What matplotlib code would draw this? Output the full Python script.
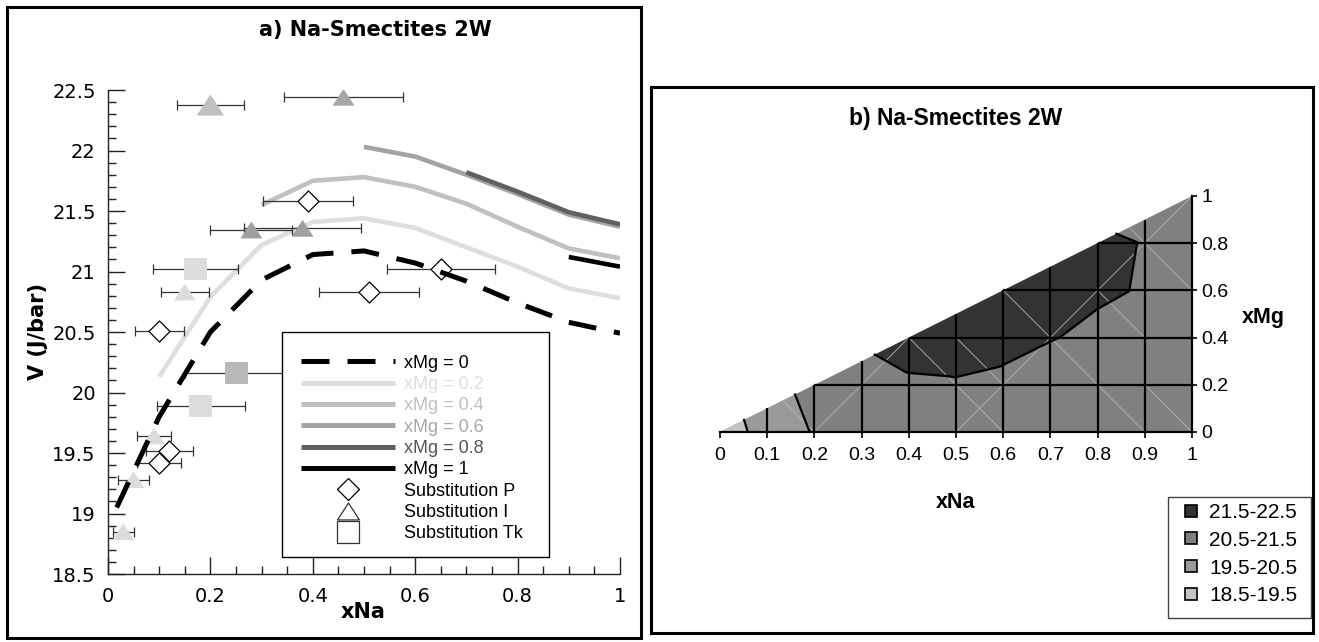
import matplotlib
matplotlib.use("Agg")
import numpy as np
import matplotlib.pyplot as plt
from matplotlib.lines import Line2D
from matplotlib.patches import Rectangle
from matplotlib.path import Path

# ---------------- data : panel a ----------------
xna_mg0 = [0.017, 0.1, 0.2, 0.3, 0.4, 0.5, 0.6, 0.7, 0.8, 0.9, 1.0]
v_mg0 = [19.05, 19.8, 20.5, 20.93, 21.14, 21.17, 21.07, 20.92, 20.74, 20.58, 20.49]
xna_mg02 = [0.1, 0.2, 0.3, 0.4, 0.5, 0.6, 0.7, 0.8, 0.9, 1.0]
v_mg02 = [20.13, 20.79, 21.22, 21.41, 21.44, 21.36, 21.20, 21.04, 20.86, 20.78]
xna_mg04 = [0.3, 0.4, 0.5, 0.6, 0.7, 0.8, 0.9, 1.0]
v_mg04 = [21.55, 21.75, 21.78, 21.70, 21.56, 21.37, 21.19, 21.11]
xna_mg06 = [0.5, 0.6, 0.7, 0.8, 0.9, 1.0]
v_mg06 = [22.03, 21.95, 21.80, 21.64, 21.47, 21.37]
xna_mg08 = [0.7, 0.8, 0.9, 1.0]
v_mg08 = [21.82, 21.66, 21.49, 21.39]
xna_mg1 = [0.9, 1.0]
v_mg1 = [21.12, 21.04]
curve_labels = ["xMg = 0", "xMg = 0.2", "xMg = 0.4", "xMg = 0.6", "xMg = 0.8", "xMg = 1"]

p_xna = [0.39, 0.65, 0.51, 0.10, 0.12, 0.10]
p_v = [21.585, 21.02, 20.83, 20.51, 19.52, 19.42]
p_err = [0.088, 0.106, 0.098, 0.048, 0.046, 0.043]

i_xna = [0.20, 0.46, 0.28, 0.38, 0.15, 0.09, 0.05, 0.03]
i_v = [22.376, 22.44, 21.343, 21.357, 20.83, 19.64, 19.28, 18.85]
i_err = [0.065, 0.117, 0.08, 0.114, 0.047, 0.034, 0.03, 0.02]

tk_xna = [0.171, 0.251, 0.181]
tk_v = [21.02, 20.16, 19.89]
tk_err = [0.083, 0.10, 0.086]

marker_labels = ["Substitution P", "Substitution I", "Substitution Tk"]

a_xticks = [0, 0.2, 0.4, 0.6, 0.8, 1]
a_yticks = [18.5, 19, 19.5, 20, 20.5, 21, 21.5, 22, 22.5]

# ---------------- data : panel b ----------------
tern_xna = [0.0, 1.0, 1.0]
tern_xmg = [0.0, 0.0, 1.0]
band_labels = ["21.5-22.5", "20.5-21.5", "19.5-20.5", "18.5-19.5"]
low_xna = [0.0, 0.059, 0.051]
low_xmg = [0.0, 0.0, 0.051]
mid_xna = [0.059, 0.19, 0.159, 0.051]
mid_xmg = [0.0, 0.0, 0.159, 0.051]
dark_xna = [0.328, 0.367, 0.396, 0.48, 0.499, 0.593, 0.6, 0.7, 0.72, 0.799, 0.867, 0.884, 0.84]
dark_xmg = [0.328, 0.284, 0.251, 0.237, 0.232, 0.277, 0.284, 0.383, 0.401, 0.52, 0.597, 0.804, 0.84]
b_xticks = [0, 0.1, 0.2, 0.3, 0.4, 0.5, 0.6, 0.7, 0.8, 0.9, 1]
b_yticks = [0, 0.2, 0.4, 0.6, 0.8, 1]
# faint triangulation edges (xNa0, xMg0, xNa1, xMg1)
tri_edges = [(0.2, 0.0, 0.4, 0.4), (0.5, 0.0, 1.0, 1.0), (0.133, 0.133, 0.2, 0.0),
             (0.4, 0.4, 0.6, 0.0), (0.6, 0.6, 0.9, 0.0), (0.867, 0.867, 1.0, 0.6),
             (0.8, 0.6, 0.9, 0.4), (0.9, 0.2, 1.0, 0.0), (0.5, 0.4, 0.6, 0.2)]

# ---------------- styles ----------------
W, H = 1319, 642
def fx(px):
    return px / W
def fy(py):
    return 1 - py / H

curve_colors = ["black", "#dedede", "#c0c0c0", "#a3a3a3", "#606060", "black"]
i_colors = ["#c0c0c0", "#a6a6a6", "#a0a0a0", "#a0a0a0", "#dcdcdc", "#dcdcdc", "#dcdcdc", "#dcdcdc"]
i_sizes = [19.8, 15.8, 15.8, 15.8, 15.8, 15.8, 15.8, 15.8]
tk_colors = ["#dcdcdc", "#b8b8b8", "#dcdcdc"]
band_colors = ["#333333", "#808080", "#999999", "#c4c4c4"]

tri_marker = Path([(0, 0.77), (-1, -0.77), (1, -0.77), (0, 0.77)],
                  [Path.MOVETO, Path.LINETO, Path.LINETO, Path.CLOSEPOLY])

fig = plt.figure(figsize=(W / 100, H / 100), dpi=100)
fig.patch.set_facecolor("white")

# ================= panel a =================
ax1 = fig.add_axes([fx(108), fy(574), 512 / W, 484 / H])
ax1.set_xlim(0, 1)
ax1.set_ylim(18.5, 22.5)
for s in ["top", "right"]:
    ax1.spines[s].set_visible(False)
for s in ["left", "bottom"]:
    ax1.spines[s].set_linewidth(1.0)
    ax1.spines[s].set_color("#222222")

ax1.set_xticks(a_xticks, labels=[f"{t:g}" for t in a_xticks], fontsize=14, fontfamily="DejaVu Sans")
ax1.set_yticks(a_yticks, labels=[f"{t:g}" for t in a_yticks], fontsize=14, fontfamily="DejaVu Sans")
ax1.set_xticks(np.arange(0, 1.0001, 0.05), minor=True)
ax1.set_yticks(np.arange(18.5, 22.5001, 0.1), minor=True)
ax1.tick_params(axis="both", which="major", direction="in", length=12, width=1.0, color="#222222")
ax1.tick_params(axis="both", which="minor", direction="in", length=6, width=1.0, color="#222222")
ax1.tick_params(axis="x", which="major", pad=9.5)
ax1.tick_params(axis="y", which="major", pad=8.8)

curves = [(xna_mg0, v_mg0), (xna_mg02, v_mg02), (xna_mg04, v_mg04),
          (xna_mg06, v_mg06), (xna_mg08, v_mg08), (xna_mg1, v_mg1)]
for k, (xs, ys) in enumerate(curves):
    if k == 0:
        ax1.plot(xs, ys, color=curve_colors[k], lw=3.6, linestyle=(0, (5.6, 3.6)),
                 dash_capstyle="butt", zorder=3.5)
    else:
        ax1.plot(xs, ys, color=curve_colors[k], lw=3.3, solid_capstyle="butt", zorder=2)

eb = dict(fmt="none", ecolor="#333333", elinewidth=0.9, capsize=3.6, capthick=0.9, zorder=2.5)
ax1.errorbar(p_xna, p_v, xerr=p_err, **eb)
ax1.errorbar(i_xna, i_v, xerr=i_err, **eb)
ax1.errorbar(tk_xna, tk_v, xerr=tk_err, **eb)

ax1.scatter(p_xna, p_v, marker="D", s=10.7 ** 2, facecolors="white", edgecolors="black",
            linewidths=0.9, zorder=3)
ax1.scatter(i_xna, i_v, marker=tri_marker, s=np.array(i_sizes) ** 2, c=i_colors,
            linewidths=0, zorder=3)
ax1.scatter(tk_xna, tk_v, marker="s", s=16.2 ** 2, c=tk_colors, linewidths=0, zorder=3)

# legend of panel a
handles = []
for k in range(6):
    if k == 0:
        handles.append(Line2D([], [], color=curve_colors[k], lw=3.6,
                              linestyle=(0, (5.6, 3.6)), dash_capstyle="butt"))
    else:
        handles.append(Line2D([], [], color=curve_colors[k], lw=3.6, solid_capstyle="butt"))
handles.append(Line2D([], [], ls="none", marker="D", ms=10.7, mfc="white", mec="black", mew=0.9))
handles.append(Line2D([], [], ls="none", marker=tri_marker, ms=15.8, mfc="white", mec="#333333", mew=0.9))
handles.append(Line2D([], [], ls="none", marker="s", ms=16.2, mfc="white", mec="#333333", mew=0.9))
labels = curve_labels + marker_labels
label_colors = ["black", "#dedede", "#c0c0c0", "#a8a8a8", "#555555", "black", "black", "black", "black"]

ax1.add_patch(Rectangle((fx(281.5), fy(557)), (549 - 281.5) / W, (557 - 332) / H,
                        transform=fig.transFigure, facecolor="white", edgecolor="black",
                        lw=1.0, zorder=4.5, clip_on=False))
leg1 = ax1.legend(handles, labels, loc="upper left", bbox_to_anchor=(fx(301.4), fy(354.5)),
                  bbox_transform=fig.transFigure, frameon=False, borderpad=0, borderaxespad=0,
                  handlelength=5.2, handletextpad=0.5, labelspacing=0.24, numpoints=1,
                  prop={"family": "Liberation Sans", "size": 13}, labelcolor=label_colors)
leg1.set_zorder(5)

fig.text(fx(375), fy(30), "a) Na-Smectites 2W", ha="center", va="center", fontsize=15,
         fontweight="bold", fontfamily="DejaVu Sans")
fig.text(fx(363), fy(612), "xNa", ha="center", va="center", fontsize=15,
         fontweight="bold", fontfamily="DejaVu Sans")
fig.text(fx(38), fy(332), "V (J/bar)", ha="center", va="center", rotation=90, fontsize=15,
         fontweight="bold", fontfamily="DejaVu Sans")

# ================= panel b =================
ax2 = fig.add_axes([fx(720), fy(432), 472 / W, 236 / H])
ax2.set_xlim(0, 1)
ax2.set_ylim(0, 1)
ax2.set_facecolor("none")
for s in ["top", "left"]:
    ax2.spines[s].set_visible(False)
for s in ["bottom", "right"]:
    ax2.spines[s].set_linewidth(1.6)
    ax2.spines[s].set_color("black")
    ax2.spines[s].set_zorder(6)

ax2.fill(tern_xna, tern_xmg, color=band_colors[1], lw=0, zorder=1)
ax2.fill(mid_xna, mid_xmg, color=band_colors[2], lw=0, zorder=1.1)
ax2.fill(low_xna, low_xmg, color=band_colors[3], lw=0, zorder=1.1)
ax2.fill(dark_xna, dark_xmg, color=band_colors[0], lw=0, zorder=1.2)

for (a0, b0, a1, b1) in tri_edges:
    ax2.plot([a0, a1], [b0, b1], color="#b4b4b4", lw=0.6, zorder=1.5)

for t in b_xticks[1:-1]:
    ax2.plot([t, t], [0, t], color="black", lw=1.6, zorder=3, solid_capstyle="butt")
for t in b_yticks[1:-1]:
    ax2.plot([t, 1], [t, t], color="black", lw=1.6, zorder=3, solid_capstyle="butt")

ax2.plot(dark_xna, dark_xmg, color="black", lw=1.6, zorder=3.2)
ax2.plot(low_xna[1:], low_xmg[1:], color="black", lw=1.6, zorder=3.2)
ax2.plot(mid_xna[1:3], mid_xmg[1:3], color="black", lw=1.6, zorder=3.2)

ax2.set_xticks(b_xticks, labels=[f"{t:g}" for t in b_xticks], fontsize=14, fontfamily="Liberation Sans")
ax2.yaxis.tick_right()
ax2.set_yticks(b_yticks, labels=[f"{t:g}" for t in b_yticks], fontsize=14, fontfamily="Liberation Sans")
ax2.tick_params(axis="x", direction="out", length=4, width=1.2, pad=7)
ax2.tick_params(axis="y", direction="out", length=3.6, width=1.2, pad=3.4)

fig.text(fx(956), fy(118), "b) Na-Smectites 2W", ha="center", va="center", fontsize=16.5,
         fontweight="bold", fontfamily="Liberation Sans")
fig.text(fx(956), fy(502), "xNa", ha="center", va="center", fontsize=15.5,
         fontweight="bold", fontfamily="Liberation Sans")
fig.text(fx(1263), fy(317), "xMg", ha="center", va="center", fontsize=15.5,
         fontweight="bold", fontfamily="Liberation Sans")

# legend of panel b
bhandles = [Line2D([], [], ls="none", marker="s", ms=8.5, mfc=c, mec="black", mew=1.2)
            for c in band_colors]
fig.add_artist(Rectangle((fx(1168), fy(618)), (1311 - 1168) / W, (618 - 497) / H,
                         transform=fig.transFigure, facecolor="white", edgecolor="#444444", lw=1.0))
leg2 = fig.legend(bhandles, band_labels, loc="upper left", bbox_to_anchor=(fx(1183), fy(503)),
                  bbox_transform=fig.transFigure, frameon=False, borderpad=0, borderaxespad=0,
                  handlelength=0.8, handletextpad=0.45, labelspacing=0.42, numpoints=1,
                  prop={"family": "Liberation Sans", "size": 15})

# ================= frames =================
fig.add_artist(Rectangle((fx(7), fy(638)), (641 - 7) / W, (638 - 7) / H,
                         transform=fig.transFigure, fill=False, edgecolor="black", lw=2.2))
fig.add_artist(Rectangle((fx(651), fy(633)), (1313 - 651) / W, (633 - 87) / H,
                         transform=fig.transFigure, fill=False, edgecolor="black", lw=2.2))

fig.savefig("out.png", dpi=100, facecolor="white")
